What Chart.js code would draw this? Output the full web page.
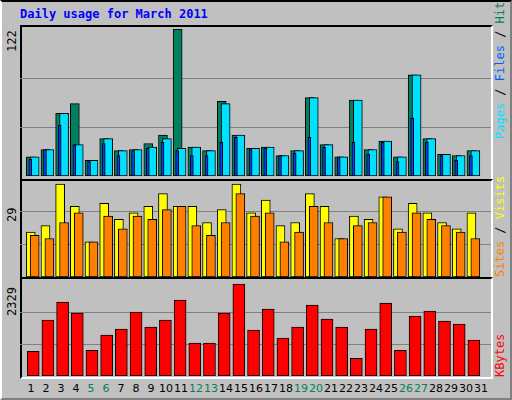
<!DOCTYPE html>
<html><head><meta charset="utf-8">
<script src="https://cdn.jsdelivr.net/npm/chart.js@4"></script>
<style>
body{margin:0;background:#fff;}
#wrap{position:absolute;left:0;top:0;width:508px;height:396px;background:#C0C0C0;border-top:2px solid #000;border-left:2px solid #fff;border-right:2px solid #808080;border-bottom:2px solid #808080;overflow:hidden;font-family:"DejaVu Sans",sans-serif;}
.abs{position:absolute;}
.panel{position:absolute;left:18px;width:469px;border-top:2px solid #000;border-left:2px solid #000;border-right:2px solid #fff;border-bottom:2px solid #fff;box-sizing:content-box;}
canvas{position:absolute;}
.rot{position:absolute;transform-origin:0 0;transform:rotate(-90deg);white-space:nowrap;font-family:"DejaVu Sans Mono",monospace;font-size:12px;line-height:14px;}
.day{position:absolute;top:380px;width:15px;text-align:center;font-size:11px;}
</style></head>
<body>
<div id="wrap">
  <div class="abs" style="left:18px;top:5px;color:#0000FF;font-family:'DejaVu Sans Mono',monospace;font-weight:bold;font-size:12px;">Daily usage for March 2011</div>
  <div class="panel" style="top:23px;height:152px;"></div>
  <div class="panel" style="top:177px;height:96px;"></div>
  <div class="panel" style="top:275px;height:98px;"></div>
  <canvas id="c1" width="471" height="147" style="left:18px;top:27px;"></canvas>
  <canvas id="c2" width="471" height="99" style="left:18px;top:176px;"></canvas>
  <canvas id="c3" width="471" height="96" style="left:18px;top:278px;"></canvas>
  <div class="rot" style="left:3px;top:50px;">122</div>
  <div class="rot" style="left:3px;top:220px;">29</div>
  <div class="rot" style="left:3px;top:314px;">2329</div>
  <div class="rot" style="left:491px;top:137px;"><span style="color:#00E0FF">Pages</span> / <span style="color:#0060FF">Files</span> / <span style="color:#008060">Hits</span></div>
  <div class="rot" style="left:491px;top:275px;"><span style="color:#FF8000">Sites</span> / <span style="color:#FFFF00">Visits</span></div>
  <div class="rot" style="left:491px;top:375px;"><span style="color:#FF0000">KBytes</span></div>
  <div id="days"></div>
</div>
<script>
const days = Array.from({length:31},(_,i)=>i+1);
const weekend = [5,6,12,13,19,20,26,27];
const hits  = [16,22,52,60,13,31,21,22,27,34,122,24,21,62,34,23,24,17,21,65,26,16,63,22,29,16,84,31,18,17,21];
const files = [16,22,52,26,13,31,21,22,24,31,23,24,21,60,34,23,24,17,21,65,26,16,63,22,29,16,84,31,18,17,21];
const pages = [14,22,42,26,12,27,17,21,23,28,21,17,17,28,32,22,23,17,19,32,24,16,28,18,28,12,48,28,17,13,17];
const visits= [14,16,29,22,11,23,18,20,22,26,22,22,17,21,29,20,24,16,17,26,22,12,19,18,25,15,23,20,17,15,20];
const sites = [13,12,17,20,11,19,15,19,18,21,22,16,13,17,26,19,20,11,14,22,17,12,16,17,25,14,20,18,16,14,12];
const kbytes= [627,1415,1872,1593,653,1034,1186,1618,1237,1415,1923,831,831,1593,2329,1161,1694,958,1237,1796,1440,1237,450,1186,1847,653,1516,1643,1389,1313,907];

const dd=document.getElementById('days');
days.forEach(d=>{const e=document.createElement('div');e.className='day';e.textContent=d;
 e.style.left=(31+15*(d-1)-7.5-2)+'px';e.style.color=weekend.includes(d)?'#008060':'#000';dd.appendChild(e);});

const gridPlugin={id:'grid',beforeDatasetsDraw(ch){const y=ch.scales.y,a=ch.chartArea,c=ch.ctx;c.save();c.strokeStyle='#808080';c.lineWidth=1;
 for(let k=1;k<3;k++){const p=Math.round(y.getPixelForValue(y.max*k/3))+0.5;c.beginPath();c.moveTo(a.left,p);c.lineTo(a.right,p);c.stroke();}c.restore();}};

function ds(vals,off,w,color,order){return {data:vals.map((v,i)=>({x:i+1+off/15,y:v})),backgroundColor:color,borderColor:'#000',borderWidth:1,barThickness:w,grouped:false,order:order,borderSkipped:false};}
function mk(id,datasets,max){
 new Chart(document.getElementById(id),{type:'bar',data:{datasets},plugins:[gridPlugin],
  options:{responsive:false,animation:false,devicePixelRatio:1,layout:{padding:0},
   plugins:{legend:{display:false},tooltip:{enabled:false}},
   scales:{x:{type:'linear',display:false,offset:false,min:1-13/15,max:31+18/15},y:{display:false,min:0,max:max}}}});
}
mk('c1',[ds(hits,-2,9,'#008060',3),ds(files,2,9,'#00E0FF',2),ds(pages,-2.5,3,'#0040FF',1)],122);
mk('c2',[ds(visits,-2,9,'#FFFF00',2),ds(sites,2,9,'#FF8000',1)],29*99/93);
mk('c3',[ds(kbytes,0.5,12,'#FF0000',1)],2329*96/92);
</script>
</body></html>
